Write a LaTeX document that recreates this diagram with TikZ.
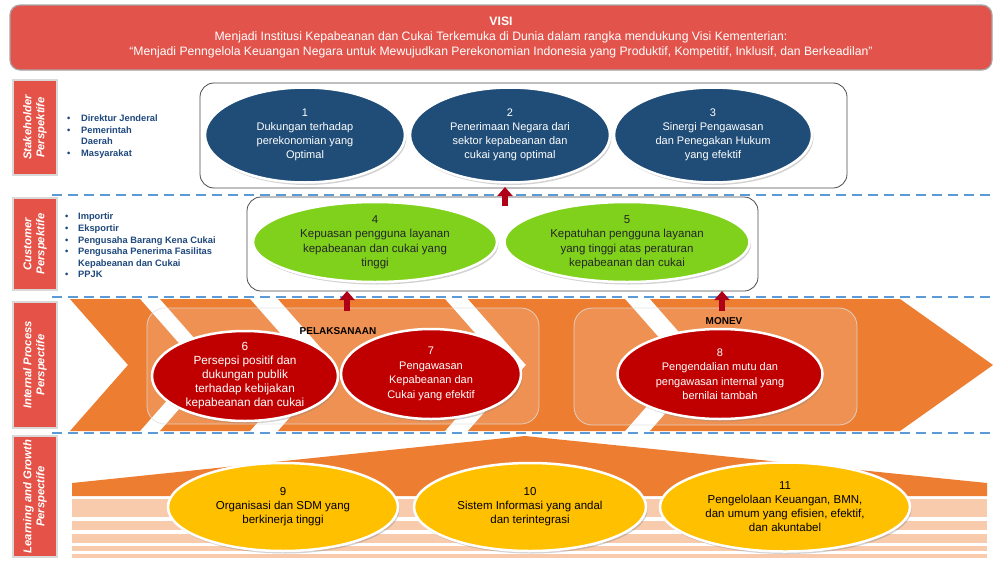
\documentclass[tikz,border=0pt]{standalone}
\usepackage{fontspec}
\setmainfont{Liberation Sans}
\usetikzlibrary{shapes.geometric,shadows,arrows.meta,calc}
\definecolor{visired}{RGB}{226,84,75}
\definecolor{lblred}{RGB}{229,83,72}
\definecolor{objblue}{RGB}{31,77,120}
\definecolor{objgreen}{RGB}{127,209,27}
\definecolor{objred}{RGB}{192,0,0}
\definecolor{objyellow}{RGB}{255,192,0}
\definecolor{chevorange}{RGB}{237,125,49}
\definecolor{peach}{RGB}{248,203,173}
\definecolor{dashblue}{RGB}{91,155,213}
\definecolor{listblue}{RGB}{31,73,125}
\definecolor{arrowred}{RGB}{176,0,24}
\definecolor{darktext}{RGB}{38,38,38}
\tikzset{
  banner/.style={draw=gray!70,line width=1.2pt,fill=visired,rounded corners=10pt,text=white,align=center,inner sep=0pt,font=\fontsize{12.2}{15}\selectfont},
  lblbox/.style={draw=gray!30,line width=2.5pt,fill=lblred,text=white,align=center,inner sep=0pt,font=\bfseries\itshape\fontsize{11.3}{13}\selectfont},
  groupbox/.style={draw=gray!60!black,line width=0.8pt,fill=white,rounded corners=14pt},
  overlaybox/.style={draw=white!75!gray,line width=0.8pt,fill=white,fill opacity=0.16,draw opacity=0.8,rounded corners=18pt},
  obj/.style={ellipse,draw=white,line width=2.5pt,align=center,inner sep=0pt,font=\fontsize{11}{14}\selectfont,
    drop shadow={shadow xshift=1.5pt,shadow yshift=-2.5pt,opacity=0.35}},
  blueobj/.style={obj,fill=objblue,text=white},
  greenobj/.style={obj,fill=objgreen,text=darktext,font=\fontsize{11.5}{14.5}\selectfont},
  redobj/.style={obj,fill=objred,text=white,font=\fontsize{11}{14.5}\selectfont},
  yellowobj/.style={obj,fill=objyellow,text=black,font=\fontsize{11.5}{14}\selectfont},
  listtext/.style={align=left,inner sep=0pt,text=listblue,font=\bfseries\fontsize{9.3}{11.6}\selectfont},
  dashline/.style={draw=dashblue,line width=2.5pt,dash pattern=on 10pt off 6pt},
  uparrow/.style={draw=arrowred,line width=6pt,-{Triangle[width=15pt,length=9pt]}},
  grouplabel/.style={font=\bfseries\fontsize{10}{12}\selectfont,text=black,inner sep=0pt},
}
\newcommand{\bul}{\makebox[14pt][l]{\textbullet}}
\newcommand{\bulc}{\makebox[13pt][l]{\textbullet}}
\newcommand{\ind}{\hspace*{14pt}}
\newcommand{\indc}{\hspace*{13pt}}
\begin{document}
\begin{tikzpicture}[x=1pt,y=-1pt]
\useasboundingbox (0,0) rectangle (1000,562);
\fill[white] (0,0) rectangle (1000,562);

% VISI banner
\node[banner,minimum width=982pt,minimum height=65pt] (visi) at (501,37.5)
 {\textbf{VISI}\\Menjadi Institusi Kepabeanan dan Cukai Terkemuka di Dunia dalam rangka mendukung Visi Kementerian:\\``Menjadi Penngelola Keuangan Negara untuk Mewujudkan Perekonomian Indonesia yang Produktif, Kompetitif, Inklusif, dan Berkeadilan''};

% perspective labels
\node[lblbox,rotate=90,minimum width=95pt,minimum height=44pt] (lblsh) at (35,127.5) {Stakeholder\\Perspektife};
\node[lblbox,rotate=90,minimum width=92pt,minimum height=44pt] (lblcu) at (35,244) {Customer\\Perspektife};
\node[lblbox,rotate=90,minimum width=126pt,minimum height=44pt] (lblip) at (35,365) {Internal Process\\Perspectife};
\node[lblbox,rotate=90,minimum width=121pt,minimum height=44pt] (lbllg) at (35,496.5) {Learning and Growth\\Perspectife};

% lists
\node[listtext,anchor=north west] (shlist) at (67,114.5)
 {\bul Direktur Jenderal\\\bul Pemerintah\\\ind Daerah\\\bul Masyarakat};
\node[listtext,anchor=north west] (culist) at (65,213)
 {\bulc Importir\\\bulc Eksportir\\\bulc Pengusaha Barang Kena Cukai\\\bulc Pengusaha Penerima Fasilitas\\\indc Kepabeanan dan Cukai\\\bulc PPJK};

% dashed separators
\draw[dashline] (52,195) -- (992,195);
\draw[dashline] (52,297) -- (992,297);
\draw[dashline] (52,433) -- (992,433);

% chevrons
\fill[chevorange] (70,299) -- (140,299) -- (198,365) -- (140,431) -- (70,431) -- (128,365) -- cycle;
\fill[chevorange] (160,299) -- (250,299) -- (308,365) -- (250,431) -- (160,431) -- (218,365) -- cycle;
\fill[chevorange] (278,299) -- (445,299) -- (503,365) -- (445,431) -- (278,431) -- (336,365) -- cycle;
\fill[chevorange] (468,299) -- (625,299) -- (683,365) -- (625,431) -- (468,431) -- (526,365) -- cycle;
\fill[chevorange] (650,299) -- (900,299) -- (993,365) -- (900,431) -- (650,431) -- (708,365) -- cycle;

% learning roof and stripes
\fill[chevorange] (72,483) -- (525,436) -- (987,483) -- (987,496) -- (72,496) -- cycle;
\fill[peach] (72,499) rectangle (987,517);
\fill[peach] (72,521) rectangle (987,530);
\fill[peach] (72,534) rectangle (987,543);
\fill[peach] (72,546) rectangle (987,551);
\fill[peach] (72,554) rectangle (987,558);

% group boxes
\node[groupbox,minimum width=647pt,minimum height=105pt] (shbox) at (523.5,135.5) {};
\node[groupbox,minimum width=511pt,minimum height=94pt] (cubox) at (502.5,244) {};
\node[overlaybox,minimum width=392pt,minimum height=116pt] (pelbox) at (343,366) {};
\node[overlaybox,minimum width=283pt,minimum height=117pt] (monbox) at (715.5,366.5) {};
\node[grouplabel] (pellbl) at (338,331) {PELAKSANAAN};
\node[grouplabel] (monlbl) at (724,321) {MONEV};

% objectives
\node[blueobj,minimum width=200pt,minimum height=95pt] (o1) at (305,135) {1\\Dukungan terhadap\\perekonomian yang\\Optimal};
\node[blueobj,minimum width=200pt,minimum height=95pt] (o2) at (510,135) {2\\Penerimaan Negara dari\\sektor kepabeanan dan\\cukai yang optimal};
\node[blueobj,minimum width=198pt,minimum height=95pt] (o3) at (713,135) {3\\Sinergi Pengawasan\\dan Penegakan Hukum\\yang efektif};

\node[greenobj,minimum width=244pt,minimum height=80pt] (o4) at (375,242) {4\\Kepuasan pengguna layanan\\kepabeanan dan cukai yang\\tinggi};
\node[greenobj,minimum width=245pt,minimum height=80pt] (o5) at (627,242) {5\\Kepatuhan pengguna layanan\\yang tinggi atas peraturan\\kepabeanan dan cukai};

\node[redobj,minimum width=186pt,minimum height=90pt,font=\fontsize{11.8}{14}\selectfont,inner ysep=-4pt] (o6) at (245,376) {6\\Persepsi positif dan\\dukungan publik\\terhadap kebijakan\\kepabeanan dan cukai};
\node[redobj,minimum width=180pt,minimum height=90pt] (o7) at (431,374) {7\\Pengawasan\\Kepabeanan dan\\Cukai yang efektif};
\node[redobj,minimum width=205pt,minimum height=90pt] (o8) at (720,374) {8\\Pengendalian mutu dan\\pengawasan internal yang\\bernilai tambah};

\node[yellowobj,minimum width=230pt,minimum height=88pt] (o9) at (283,507) {9\\Organisasi dan SDM yang\\berkinerja tinggi};
\node[yellowobj,minimum width=232pt,minimum height=88pt] (o10) at (530,507) {10\\Sistem Informasi yang andal\\dan terintegrasi};
\node[yellowobj,minimum width=250pt,minimum height=89pt] (o11) at (785,507) {11\\Pengelolaan Keuangan, BMN,\\dan umum yang efisien, efektif,\\dan akuntabel};

% arrows
\coordinate (a1s) at (505,206); \coordinate (a1e) at (505,187);
\coordinate (a2s) at (347,311); \coordinate (a2e) at (347,291);
\coordinate (a3s) at (722,311); \coordinate (a3e) at (722,291);
\draw[uparrow] (a1s) -- (a1e);
\draw[uparrow] (a2s) -- (a2e);
\draw[uparrow] (a3s) -- (a3e);
\end{tikzpicture}
\end{document}
